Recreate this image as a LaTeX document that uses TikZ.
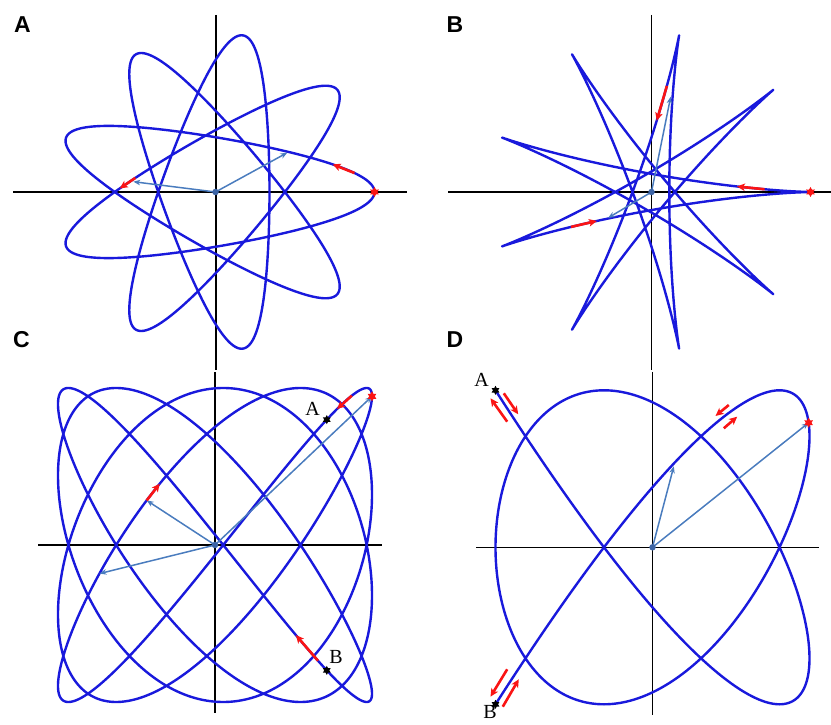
\documentclass[tikz,border=0pt]{standalone}
\usepackage{fontspec}
\setmainfont{Liberation Serif}
\newfontfamily\panelfont{Liberation Sans}
\usetikzlibrary{shapes.geometric,arrows.meta}
\definecolor{orbit}{RGB}{25,25,220}
\definecolor{vecblue}{RGB}{74,124,190}
\definecolor{dotblue}{RGB}{60,100,165}
\definecolor{velred}{RGB}{250,20,20}
\tikzset{
  axisline/.style={black, line width=1.4pt},
  orbitline/.style={orbit, line width=2.4pt, line join=round},
  posvec/.style={vecblue, line width=1.5pt, -{Stealth[length=7pt,width=5.5pt]}},
  velvec/.style={velred, line width=2.6pt, -{Stealth[length=8pt,width=7.5pt,inset=2pt]}},
  startmark/.style={star, star points=6, star point ratio=1.75, fill=velred, draw=none, minimum size=10pt, inner sep=0pt},
  pointmark/.style={star, star points=6, star point ratio=1.75, fill=black, draw=none, minimum size=9pt, inner sep=0pt},
  origindot/.style={circle, fill=dotblue, draw=none, minimum size=6.5pt, inner sep=0pt},
  panellabel/.style={font=\panelfont\bfseries\fontsize{23}{26}\selectfont, inner sep=0pt},
  ptlabel/.style={font=\fontsize{20}{22}\selectfont, inner sep=0pt},
}
\begin{document}
\begin{tikzpicture}[x=1pt,y=1pt,
  declare function={
    prx(\pa,\pb,\pt)=\pa*cos(\pt)*cos(\pt/9)+\pb*sin(\pt)*sin(\pt/9);
    pry(\pa,\pb,\pt)=\pb*sin(\pt)*cos(\pt/9)-\pa*cos(\pt)*sin(\pt/9);
    lcx(\pt)=157*cos(4*\pt+15);
    lcy(\pt)=157*cos(5*\pt);
    ldx(\pt)=-157*cos(4*\pt);
    ldy(\pt)=157*cos(5*\pt);
  }]
\useasboundingbox (0,0) rectangle (831,724);

% ---------------- Panel A ----------------
\node[panellabel] (labA) at (22.5,699) {A};
\begin{scope}[shift={(215.5,532)}]
  \coordinate (Ao) at (0,0);
  \coordinate (AxL) at (-202.5,0); \coordinate (AxR) at (191,0);
  \coordinate (AyT) at (0.5,177);  \coordinate (AyB) at (0.5,-178);
  \draw[axisline] (AxL) -- (AxR);
  \draw[axisline] (AyT) -- (AyB);
  \draw[orbitline] plot[domain=0:1620, samples=1621, variable=\u]
     ({prx(159,54,\u)},{pry(159,54,\u)}) -- cycle;
  \coordinate (Av1) at (71.8,39.3);
  \coordinate (Av2) at (-82.2,10.3);
  \draw[posvec] (Ao) -- (Av1);
  \draw[posvec] (Ao) -- (Av2);
  \coordinate (Ar1s) at ({prx(159,54,30)},{pry(159,54,30)});
  \coordinate (Ar1e) at ({prx(159,54,44)},{pry(159,54,44)});
  \coordinate (Ar2s) at ({prx(159,54,1374)},{pry(159,54,1374)});
  \coordinate (Ar2e) at ({prx(159,54,1382)},{pry(159,54,1382)});
  \draw[velvec] (Ar1s) -- (Ar1e);
  \draw[velvec] (Ar2s) -- (Ar2e);
  \node[origindot] (Adot) at (Ao) {};
  \node[startmark] (Astart) at (159,0) {};
\end{scope}

% ---------------- Panel B ----------------
\node[panellabel] (labB) at (455,699) {B};
\begin{scope}[shift={(651.5,532)}]
  \coordinate (Bo) at (0,0);
  \coordinate (BxL) at (-203.5,0); \coordinate (BxR) at (180,0);
  \coordinate (ByT) at (0.2,177);  \coordinate (ByB) at (0.2,-178);
  \draw[axisline] (BxL) -- (BxR);
  \draw[axisline] (ByT) -- (ByB);
  \draw[orbitline] plot[domain=0:1620, samples=1621, variable=\u]
     ({prx(159,17.8,\u)},{pry(159,17.8,\u)}) -- cycle;
  \coordinate (Bv1) at (19.2,95.3);
  \coordinate (Bv2) at (-43.5,-26);
  \draw[posvec] (Bo) -- (Bv1);
  \draw[posvec] (Bo) -- (Bv2);
  \coordinate (Br1s) at ({prx(159,17.8,45)},{pry(159,17.8,45)});
  \coordinate (Br1e) at ({prx(159,17.8,58)},{pry(159,17.8,58)});
  \coordinate (Br2s) at ({prx(159,17.8,948)},{pry(159,17.8,948)});
  \coordinate (Br2e) at ({prx(159,17.8,964)},{pry(159,17.8,964)});
  \coordinate (Br3s) at ({prx(159,17.8,1497)},{pry(159,17.8,1497)});
  \coordinate (Br3e) at ({prx(159,17.8,1508)},{pry(159,17.8,1508)});
  \draw[velvec] (Br1s) -- (Br1e);
  \draw[velvec] (Br2s) -- (Br2e);
  \draw[velvec] (Br3s) -- (Br3e);
  \node[origindot] (Bdot) at (Bo) {};
  \node[startmark] (Bstart) at (159,0) {};
\end{scope}

% ---------------- Panel C ----------------
\node[panellabel] (labC) at (21.5,384) {C};
\begin{scope}[shift={(215,179)}]
  \coordinate (Co) at (0,0);
  \coordinate (CxL) at (-177,0); \coordinate (CxR) at (167,0);
  \coordinate (CyT) at (0,173);  \coordinate (CyB) at (0,-168);
  \draw[axisline] (CxL) -- (CxR);
  \draw[axisline] (CyT) -- (CyB);
  \draw[orbitline] plot[domain=0:360, samples=1441, variable=\u]
     ({lcx(\u)},{lcy(\u)}) -- cycle;
  \coordinate (Cst) at ({lcx(-3.75)},{lcy(-3.75)});
  \coordinate (Cv1) at ({lcx(57.3)},{lcy(57.3)});
  \coordinate (Cv2) at ({lcx(51.9)},{lcy(51.9)});
  \draw[posvec] (Co) -- (Cst);
  \draw[posvec] (Co) -- (Cv1);
  \draw[posvec] (Co) -- (Cv2);
  \coordinate (Cr1s) at ({lcx(3.6)},{lcy(3.6)});
  \coordinate (Cr1e) at ({lcx(6)},{lcy(6)});
  \coordinate (Cr2s) at ({lcx(188.5)},{lcy(188.5)});
  \coordinate (Cr2e) at ({lcx(191)},{lcy(191)});
  \coordinate (Cr3s) at ({lcx(57.3)},{lcy(57.3)});
  \coordinate (Cr3e) at ({lcx(58.6)},{lcy(58.6)});
  \draw[velvec] (Cr1s) -- (Cr1e);
  \draw[velvec] (Cr2s) -- (Cr2e);
  \draw[velvec] (Cr3s) -- (Cr3e);
  \node[origindot] (Cdot) at (Co) {};
  \node[startmark] (Cstart) at (Cst) {};
  \node[pointmark] (CA) at ({lcx(7.4)},{lcy(7.4)}) {};
  \node[pointmark] (CB) at ({lcx(187.4)},{lcy(187.4)}) {};
  \node[ptlabel] (CAl) at (97.5,136.5) {A};
  \node[ptlabel] (CBl) at (121,-111.7) {B};
\end{scope}

% ---------------- Panel D ----------------
\node[panellabel] (labD) at (455,384) {D};
\begin{scope}[shift={(652.5,176.7)}]
  \coordinate (Do) at (0,0);
  \coordinate (DxL) at (-176.5,0); \coordinate (DxR) at (166.5,0);
  \coordinate (DyT) at (0.2,175.3); \coordinate (DyB) at (0.2,-167.7);
  \draw[axisline] (DxL) -- (DxR);
  \draw[axisline] (DyT) -- (DyB);
  \draw[orbitline] plot[domain=0:180, samples=721, variable=\u]
     ({ldx(\u)},{ldy(\u)});
  \coordinate (Dst) at ({ldx(136.5)},{ldy(136.5)});
  \coordinate (Dv1) at (21.3,81);
  \draw[posvec] (Do) -- (Dst);
  \draw[posvec] (Do) -- (Dv1);
  \coordinate (DAa) at (-145.3,125.6);  \coordinate (DAb) at (-162,149);
  \coordinate (DAc) at (-148.7,154);    \coordinate (DAd) at (-134.3,133);
  \coordinate (DBa) at (-145.3,-122);   \coordinate (DBb) at (-162,-149.4);
  \coordinate (DBc) at (-149.7,-159.4); \coordinate (DBd) at (-133.7,-132);
  \coordinate (DTa) at (76.3,142.3);    \coordinate (DTb) at (63,131.3);
  \coordinate (DTc) at (71.3,119);      \coordinate (DTd) at (84.7,130.6);
  \draw[velvec] (DAa) -- (DAb);
  \draw[velvec] (DAc) -- (DAd);
  \draw[velvec] (DBa) -- (DBb);
  \draw[velvec] (DBc) -- (DBd);
  \draw[velvec] (DTa) -- (DTb);
  \draw[velvec] (DTc) -- (DTd);
  \node[origindot] (Ddot) at (Do) {};
  \node[startmark] (Dstart) at (Dst) {};
  \node[pointmark] (DA) at ({ldx(0)},{ldy(0)}) {};
  \node[pointmark] (DB) at ({ldx(180)},{ldy(180)}) {};
  \node[ptlabel] (DAl) at (-171,167.3) {A};
  \node[ptlabel] (DBl) at (-162.5,-164.5) {B};
\end{scope}
\end{tikzpicture}
\end{document}
